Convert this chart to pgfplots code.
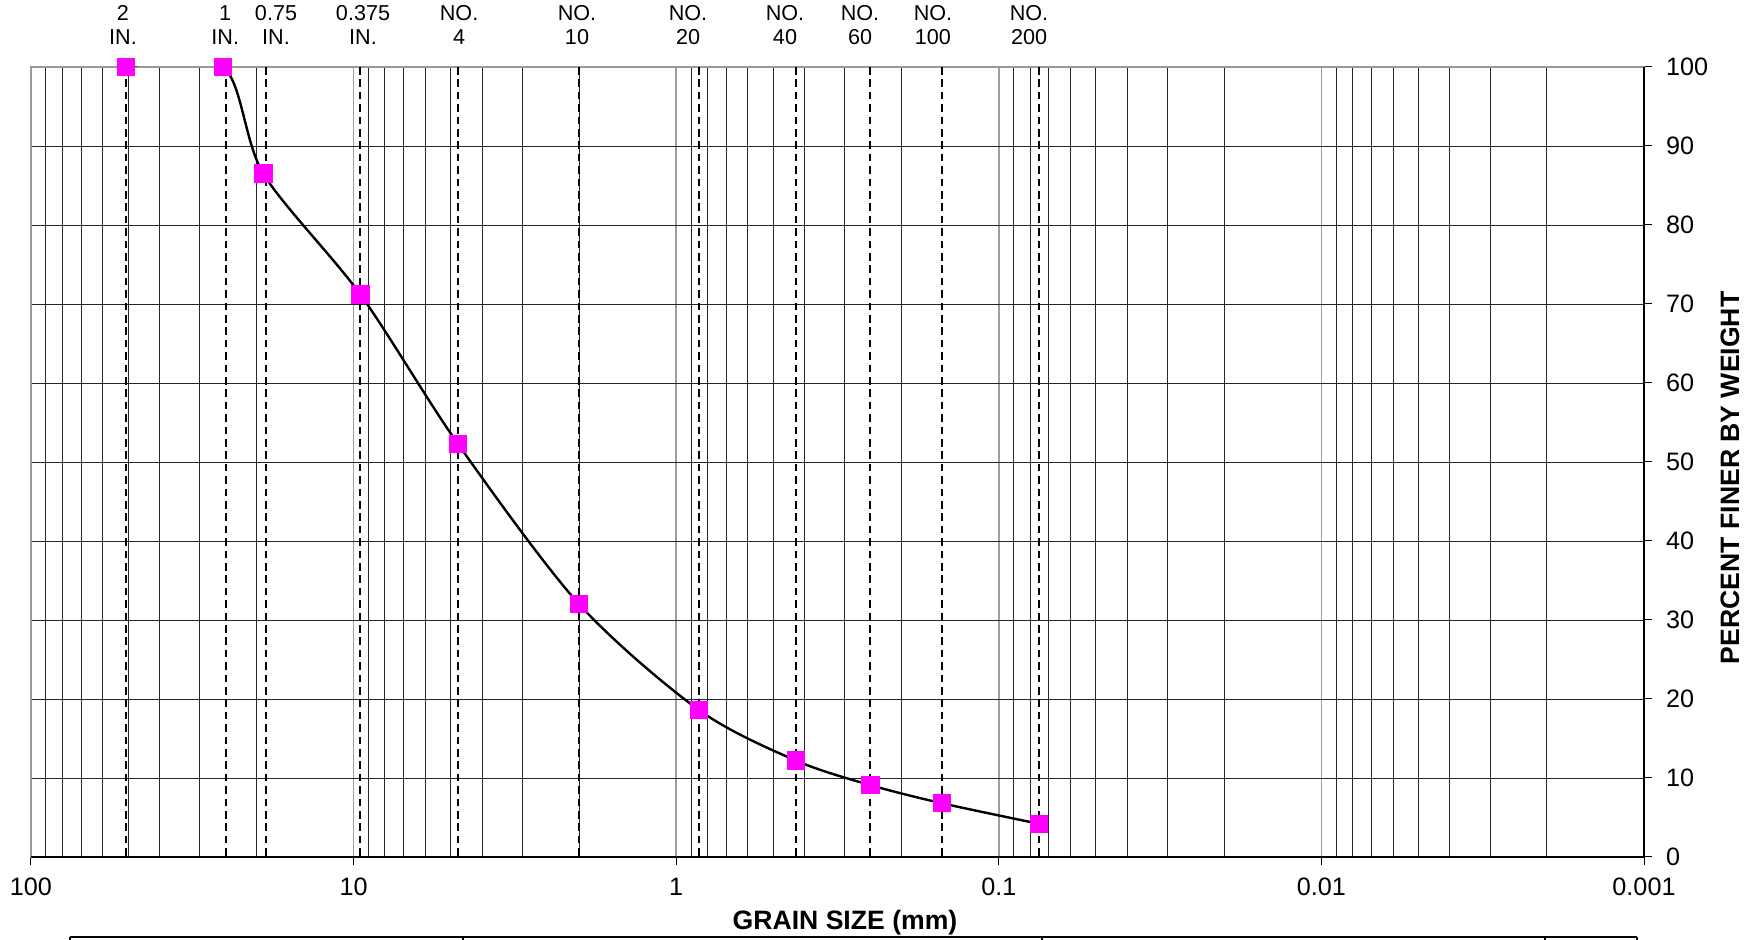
\documentclass[border=0pt]{standalone}
\usepackage{fontspec}
\setmainfont{Liberation Sans}
\usepackage{pgfplots}
\pgfplotsset{compat=1.18}
\definecolor{mag}{RGB}{255,0,255}
\pgfplotstableread{
d p
50.8 100
25.4 100
19.05 86.5
9.525 71.2
4.75 52.3
2.0 32.0
0.85 18.6
0.425 12.2
0.25 9.1
0.15 6.8
0.075 4.2
}\gradation
\begin{document}
\begin{tikzpicture}
\useasboundingbox (-15.5pt,-41.5pt) rectangle (862.5pt,428.5pt);
\begin{axis}[
  scale only axis,
  width=806.5pt, height=395pt,
  xmode=log, x dir=reverse,
  xmin=0.001, xmax=100, ymin=0, ymax=100,
  xtick={0.001,0.01,0.1,1,10,100},
  xticklabels={0.001,0.01,0.1,1,10,100},
  minor xtick={0.002,0.003,0.004,0.005,0.006,0.007,0.008,0.009,
    0.02,0.03,0.04,0.05,0.06,0.07,0.08,0.09,
    0.2,0.3,0.4,0.5,0.6,0.7,0.8,0.9,
    2,3,4,5,6,7,8,9,20,30,40,50,60,70,80,90},
  ytick={0,10,20,30,40,50,60,70,80,90,100},
  xtick pos=lower, ytick pos=right, yticklabel pos=right,
  tick align=outside, major tick length=4pt, minor tick length=0pt,
  every tick/.style={black, line width=0.5pt},
  xmajorgrids, xminorgrids, ymajorgrids,
  major x grid style={black!38, line width=0.9pt},
  minor x grid style={black!85, line width=0.45pt},
  major y grid style={black!85, line width=0.45pt},
  axis line style={black!40, line width=1pt},
  ticklabel style={font=\fontsize{12.6}{14}\selectfont},
  /pgf/number format/assume math mode=true,
  yticklabel style={xshift=3.5pt},
  xticklabel style={yshift=-3pt},
  xlabel={GRAIN SIZE (mm)},
  ylabel={PERCENT FINER BY WEIGHT},
  label style={font=\fontsize{13.3}{15}\selectfont\bfseries},
  xlabel style={at={(axis description cs:0.5,0)}, anchor=center, yshift=-33pt, xshift=3.75pt},
  ylabel style={at={(axis description cs:1.0533,0.48)}, anchor=center},
]
\addplot[black, line width=1.2pt, smooth, tension=0.5,
  mark=square*, mark size=4pt, mark options={fill=mag, draw=mag, solid}]
  table[x=d, y=p] {\gradation};
\addplot[black, line width=1.05pt, dash pattern=on 3.8pt off 2.4pt] coordinates {(50.8,100) (50.8,0)};
\addplot[black, line width=1.05pt, dash pattern=on 3.8pt off 2.4pt] coordinates {(24.79,100) (24.79,0)};
\addplot[black, line width=1.05pt, dash pattern=on 3.8pt off 2.4pt] coordinates {(18.69,100) (18.69,0)};
\addplot[black, line width=1.05pt, dash pattern=on 3.8pt off 2.4pt] coordinates {(9.525,100) (9.525,0)};
\addplot[black, line width=1.05pt, dash pattern=on 3.8pt off 2.4pt] coordinates {(4.75,100) (4.75,0)};
\addplot[black, line width=1.05pt, dash pattern=on 3.8pt off 2.4pt] coordinates {(2.0,100) (2.0,0)};
\addplot[black, line width=1.05pt, dash pattern=on 3.8pt off 2.4pt] coordinates {(0.85,100) (0.85,0)};
\addplot[black, line width=1.05pt, dash pattern=on 3.8pt off 2.4pt] coordinates {(0.425,100) (0.425,0)};
\addplot[black, line width=1.05pt, dash pattern=on 3.8pt off 2.4pt] coordinates {(0.25,100) (0.25,0)};
\addplot[black, line width=1.05pt, dash pattern=on 3.8pt off 2.4pt] coordinates {(0.15,100) (0.15,0)};
\addplot[black, line width=1.05pt, dash pattern=on 3.8pt off 2.4pt] coordinates {(0.075,100) (0.075,0)};
\coordinate (bl) at (axis cs:100,0);
\coordinate (br) at (axis cs:0.001,0);
\coordinate (tr) at (axis cs:0.001,100);
\coordinate (t1) at (axis cs:51.86,100);
\coordinate (t2) at (axis cs:25.0,100);
\coordinate (t3) at (axis cs:17.4,100);
\coordinate (t4) at (axis cs:9.35,100);
\coordinate (t5) at (axis cs:4.71,100);
\coordinate (t6) at (axis cs:2.03,100);
\coordinate (t7) at (axis cs:0.919,100);
\coordinate (t8) at (axis cs:0.460,100);
\coordinate (t9) at (axis cs:0.2693,100);
\coordinate (t10) at (axis cs:0.160,100);
\coordinate (t11) at (axis cs:0.0806,100);
\end{axis}
\draw[black, line width=1pt] (bl) -- (br) -- (tr);
\begin{scope}[every node/.style={align=center, inner sep=0pt, yshift=21pt, font=\fontsize{10.8}{11.9}\selectfont}]
\node at (t1) {2\\IN.};
\node at (t2) {1\\IN.};
\node at (t3) {0.75\\IN.};
\node at (t4) {0.375\\IN.};
\node at (t5) {NO.\\4};
\node at (t6) {NO.\\10};
\node at (t7) {NO.\\20};
\node at (t8) {NO.\\40};
\node at (t9) {NO.\\60};
\node at (t10) {NO.\\100};
\node at (t11) {NO.\\200};
\end{scope}
\draw[black, line width=1pt] (19.5pt,-40.25pt) -- (803pt,-40.25pt);
\foreach \xx in {19.5,216,505.5,757,803}{
  \draw[black, line width=0.6pt] (\xx pt,-40.25pt) -- (\xx pt,-42pt);
}
\end{tikzpicture}
\end{document}
